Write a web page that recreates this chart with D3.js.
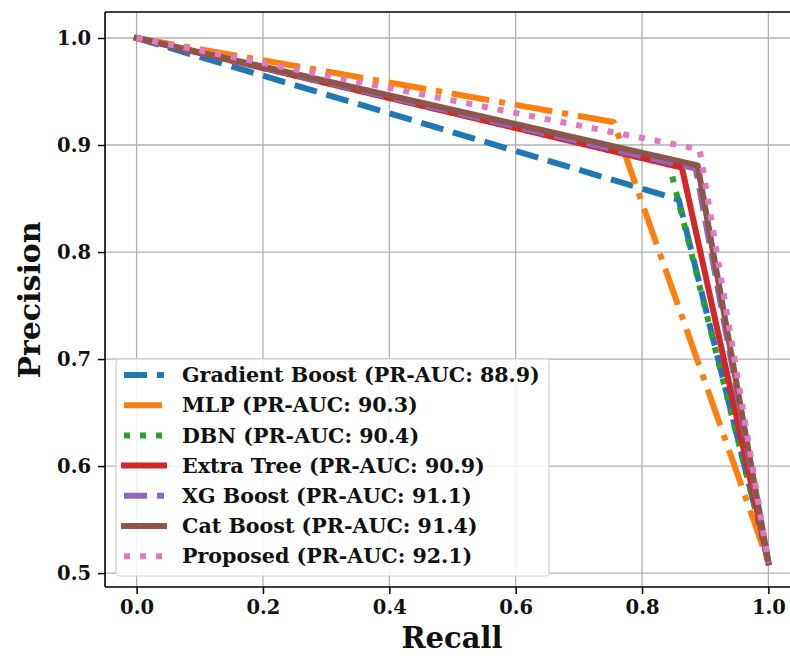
<!DOCTYPE html>
<html>
<head>
<meta charset="utf-8">
<script src="https://cdn.jsdelivr.net/npm/d3@7"></script>
<style>
  body { margin: 0; background: #fff; }
  text { font-family: "DejaVu Serif", serif; font-weight: bold; fill: #111; }
</style>
</head>
<body>
<svg id="svg1" width="790" height="656"></svg>
<script>
// model names and scores
var models = ["Gradient Boost", "MLP", "DBN", "Extra Tree", "XG Boost", "Cat Boost", "Proposed"];
var prAuc = [88.9, 90.3, 90.4, 90.9, 91.1, 91.4, 92.1];

// curve points (recall, precision)
var recallPts = [
    [0, 0.858, 1],
    [0, 0.755, 1],
    [0, 0.843, 1],
    [0, 0.863, 1],
    [0, 0.885, 1],
    [0, 0.888, 1],
    [0, 0.891, 1]
];
var precisionPts = [
    [1, 0.849, 0.51],
    [1, 0.9215, 0.51],
    [1, 0.882, 0.51],
    [1, 0.879, 0.51],
    [1, 0.878, 0.51],
    [1, 0.881, 0.51],
    [1, 0.896, 0.51]
];

var xTicks = [0, 0.2, 0.4, 0.6, 0.8, 1.0];
var yTicks = [0.5, 0.6, 0.7, 0.8, 0.9, 1.0];

var colors = ["#1f77b4", "#ff7f0e", "#2ca02c", "#d62728", "#9467bd", "#8c564b", "#e377c2"];
var dashes = ["23 10", "38 10 6 10", "6 10", null, "23 10", null, "6 10"];

var lw = 6;
var svg = d3.select("#svg1");

var x = d3.scaleLinear().domain([-0.05, 1.05]).range([105, 800]);
var y = d3.scaleLinear().domain([0.487, 1.0243]).range([587, 12]);

// grid
svg.append("g").selectAll("line").data(xTicks).enter().append("line")
    .attr("x1", function(d) { return x(d); }).attr("x2", function(d) { return x(d); })
    .attr("y1", 12).attr("y2", 587)
    .attr("stroke", "#b0b0b0").attr("stroke-width", 1.3);
svg.append("g").selectAll("line").data(yTicks).enter().append("line")
    .attr("x1", 105).attr("x2", 800)
    .attr("y1", function(d) { return y(d); }).attr("y2", function(d) { return y(d); })
    .attr("stroke", "#b0b0b0").attr("stroke-width", 1.3);

// curves
var line = d3.line().x(function(d) { return x(d[0]); }).y(function(d) { return y(d[1]); });
for (var k = 0; k < models.length; k++) {
    var pts = recallPts[k].map(function(r, i) { return [r, precisionPts[k][i]]; });
    var p = svg.append("path")
        .attr("d", line(pts))
        .attr("fill", "none")
        .attr("stroke", colors[k])
        .attr("stroke-width", lw)
        .attr("stroke-linejoin", "round");
    if (dashes[k]) p.attr("stroke-dasharray", dashes[k]).attr("stroke-linecap", "butt");
    else p.attr("stroke-linecap", "square");
}

// axes
var xAxis = svg.append("g").attr("transform", "translate(0,587)")
    .call(d3.axisBottom(x).tickValues(xTicks).tickFormat(d3.format(".1f")).tickSizeOuter(0).tickSize(7));
var yAxis = svg.append("g").attr("transform", "translate(105,0)")
    .call(d3.axisLeft(y).tickValues(yTicks).tickFormat(d3.format(".1f")).tickSizeOuter(0).tickSize(7));
[xAxis, yAxis].forEach(function(a) {
    a.select(".domain").remove();
    a.selectAll(".tick line").attr("stroke", "#000").attr("stroke-width", 1.5);
    a.selectAll(".tick text").style("font-size", "19.5px").attr("fill", "#111")
        .style("font-family", "DejaVu Serif").style("font-weight", "bold");
});
xAxis.selectAll(".tick text").attr("dy", "0.9em").attr("y", 9);
yAxis.selectAll(".tick text").attr("x", -14);

// spines (right one falls outside the picture)
svg.append("line").attr("x1", 105).attr("x2", 105).attr("y1", 12).attr("y2", 587).attr("stroke", "#000").attr("stroke-width", 1.6);
svg.append("line").attr("x1", 105).attr("x2", 800).attr("y1", 12).attr("y2", 12).attr("stroke", "#000").attr("stroke-width", 1.6);
svg.append("line").attr("x1", 105).attr("x2", 800).attr("y1", 587).attr("y2", 587).attr("stroke", "#000").attr("stroke-width", 1.6);

// axis titles
svg.append("text").attr("x", 452).attr("y", 648).attr("text-anchor", "middle")
    .style("font-size", "29px").text("Recall");
svg.append("text").attr("transform", "translate(40,300) rotate(-90)").attr("text-anchor", "middle")
    .style("font-size", "30px").text("Precision");

// legend
var leg = svg.append("g");
leg.append("rect").attr("x", 116).attr("y", 359).attr("width", 433).attr("height", 217).attr("rx", 4)
    .attr("fill", "#fff").attr("fill-opacity", 0.85).attr("stroke", "#d0d0d0").attr("stroke-width", 1.2);
var rows = leg.selectAll("g.row").data(models).enter().append("g")
    .attr("transform", function(d, i) { return "translate(0," + (375 + i * 30.2) + ")"; });
rows.append("line").attr("x1", 124).attr("x2", 164).attr("y1", 0).attr("y2", 0)
    .attr("stroke", function(d, i) { return colors[i]; })
    .attr("stroke-width", lw)
    .attr("stroke-dasharray", function(d, i) { return dashes[i]; })
    .attr("stroke-linecap", function(d, i) { return dashes[i] ? "butt" : "square"; });
rows.append("text").attr("x", 182).attr("y", 0).attr("dy", "0.35em")
    .style("font-size", "20.6px")
    .text(function(d, i) { return d + " (PR-AUC: " + prAuc[i] + ")"; });
</script>
</body>
</html>
